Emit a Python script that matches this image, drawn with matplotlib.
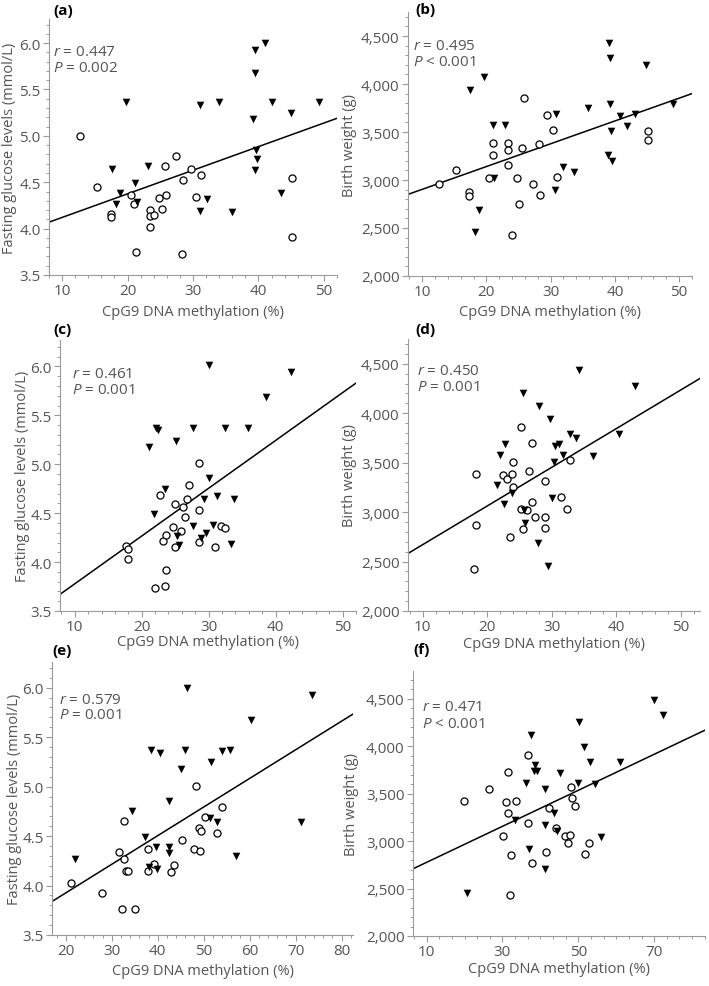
import numpy as np
import matplotlib
matplotlib.use("Agg")
import matplotlib.pyplot as plt
from matplotlib.ticker import MultipleLocator, FuncFormatter

# ---- data (circles = open markers, tris = filled down-triangles)
a_circ_x = [12.7, 15.35, 17.4, 17.4, 20.55, 21.06, 21.26, 23.46, 23.46, 23.46, 24.1, 24.78,
            25.2, 25.65, 25.9, 27.4, 28.4, 28.25, 29.7, 30.4, 31.2, 45.2, 45.2]
a_circ_y = [5.00, 4.45, 4.16, 4.12, 4.36, 4.27, 3.75, 4.20, 4.14, 4.02, 4.15, 4.33,
            4.21, 4.68, 4.36, 4.78, 4.52, 3.73, 4.64, 4.34, 4.58, 4.55, 3.91]
a_tri_x = [17.6, 18.3, 18.9, 19.7, 21.2, 21.4, 23.05, 31.05, 31.05, 32.07, 34.0, 35.9,
           39.15, 39.4, 39.4, 39.4, 39.66, 39.8, 41.0, 42.0, 43.4, 45.0, 49.3]
a_tri_y = [4.64, 4.27, 4.38, 5.37, 4.49, 4.29, 4.68, 5.33, 4.19, 4.32, 5.37, 4.18,
           5.18, 5.93, 5.68, 4.63, 4.85, 4.75, 6.00, 5.37, 4.38, 5.25, 5.36]

b_circ_x = [12.6, 15.3, 17.25, 17.25, 20.4, 21.0, 21.0, 23.4, 23.4, 23.4, 24.7, 25.0,
            24.0, 25.5, 25.8, 27.3, 28.2, 28.3, 29.5, 30.3, 31.0, 45.1, 45.1]
b_circ_y = [2956, 3105, 2873, 2831, 3025, 3385, 3257, 3385, 3316, 3156, 3025, 2748,
            2429, 3337, 3852, 2956, 3375, 2845, 3679, 3524, 3035, 3506, 3416]
b_tri_x = [17.5, 19.6, 18.9, 18.2, 21.1, 21.2, 22.85, 30.9, 30.7, 31.9, 33.7, 35.75,
           39.1, 39.3, 39.2, 39.4, 39.0, 39.6, 40.8, 41.9, 43.2, 44.9, 49.1]
b_tri_y = [3939, 4071, 2692, 2457, 3572, 3025, 3572, 3686, 2893, 3139, 3080, 3752,
           4427, 4268, 3790, 3506, 3260, 3195, 3669, 3562, 3686, 4199, 3790]

c_circ_x = [17.6, 17.96, 17.96, 22.0, 23.5, 23.6, 22.7, 23.2, 23.7, 24.7, 25.0, 25.0,
            25.8, 26.1, 26.5, 26.7, 27.1, 28.6, 28.6, 28.5, 31.0, 31.9, 32.5]
c_circ_y = [4.16, 4.13, 4.03, 3.74, 3.76, 3.92, 4.69, 4.22, 4.28, 4.36, 4.15, 4.59,
            4.32, 4.56, 4.46, 4.64, 4.79, 5.01, 4.53, 4.21, 4.15, 4.37, 4.35]
c_tri_x = [21.1, 22.2, 22.5, 21.8, 23.5, 25.1, 25.3, 25.5, 27.7, 27.6, 28.9, 29.3,
           29.6, 30.0, 30.1, 30.6, 31.3, 32.4, 33.8, 33.3, 35.9, 38.5, 42.3]
c_tri_y = [5.18, 5.37, 5.35, 4.49, 4.75, 5.24, 4.27, 4.17, 5.37, 4.37, 4.25, 4.64,
           4.30, 4.86, 6.01, 4.38, 4.68, 5.37, 4.64, 4.18, 5.37, 5.69, 5.94]

d_circ_x = [18.3, 18.3, 17.95, 22.4, 23.0, 23.9, 24.0, 24.0, 23.45, 25.2, 26.4, 27.0,
            26.9, 25.3, 26.2, 25.5, 27.45, 28.9, 28.96, 28.96, 31.45, 32.4, 32.9]
d_circ_y = [3385, 2866, 2421, 3378, 3331, 3385, 3506, 3257, 2745, 3856, 3412, 3698,
            3102, 3034, 3024, 2832, 2953, 3314, 2953, 2842, 3152, 3028, 3523]
d_tri_x = [21.5, 22.05, 22.8, 22.6, 23.9, 25.5, 25.7, 25.9, 28.1, 27.9, 29.7, 29.4,
           30.05, 30.4, 30.5, 31.1, 31.7, 32.9, 33.8, 34.2, 36.4, 40.4, 42.9]
d_tri_y = [3270, 3573, 3688, 3081, 3193, 4200, 3024, 2893, 4069, 2687, 3937, 2451,
           3142, 3506, 3671, 3688, 3573, 3792, 3752, 4433, 3563, 3792, 4274]

e_circ_x = [21.1, 27.9, 31.5, 32.2, 35.0, 32.7, 32.7, 33.2, 33.6, 37.9, 37.9, 39.2,
            43.0, 43.6, 45.3, 47.9, 49.2, 48.4, 48.9, 49.5, 50.3, 53.0, 54.0]
e_circ_y = [4.03, 3.92, 4.34, 3.76, 3.76, 4.65, 4.27, 4.15, 4.15, 4.37, 4.15, 4.22,
            4.14, 4.21, 4.46, 4.37, 4.35, 5.01, 4.58, 4.55, 4.69, 4.53, 4.79]
e_tri_x = [21.9, 34.5, 37.3, 38.2, 39.7, 39.9, 38.6, 40.5, 42.5, 42.5, 42.5, 45.0,
           45.9, 46.4, 51.7, 51.3, 52.9, 54.1, 55.7, 57.0, 60.4, 71.1, 73.5]
e_tri_y = [4.27, 4.75, 4.49, 4.19, 4.39, 4.17, 5.37, 5.34, 4.85, 4.39, 4.33, 5.18,
           5.37, 6.00, 5.25, 4.68, 4.64, 5.36, 5.37, 4.30, 5.67, 4.64, 5.93]

f_circ_x = [19.96, 26.5, 31.4, 31.0, 31.4, 33.6, 30.1, 32.2, 36.7, 36.7, 37.9, 31.9,
            41.6, 42.3, 44.0, 46.4, 47.2, 47.7, 48.0, 48.2, 49.1, 51.7, 52.8]
f_circ_y = [3421, 3546, 3729, 3411, 3293, 3421, 3054, 2857, 3904, 3186, 2764, 2436,
            2886, 3346, 3139, 3054, 2982, 3061, 3564, 3457, 3371, 2868, 2979]
f_tri_x = [20.6, 33.3, 36.1, 37.4, 37.1, 38.7, 38.4, 39.2, 41.1, 41.1, 41.2, 43.7,
           44.5, 45.2, 50.3, 50.0, 51.6, 53.0, 54.3, 55.9, 61.1, 69.9, 72.3]
f_tri_y = [2457, 3221, 3614, 4121, 2911, 3796, 3736, 3736, 3550, 3171, 2707, 3293,
           3107, 3714, 4257, 3611, 3989, 3836, 3600, 3043, 3836, 4489, 4329]

# regression lines as (intercept, slope)
fits_ab = {"a": (3.866, 0.02545), "b": (2665, 23.75), "c": (3.289, 0.04886),
           "d": (2281, 39.06), "e": (3.347, 0.02893), "f": (2586, 18.96)}
stats_r = {"a": "0.447", "b": "0.495", "c": "0.461", "d": "0.450", "e": "0.579", "f": "0.471"}
stats_p = {"a": "= 0.002", "b": "< 0.001", "c": "= 0.001", "d": "= 0.001", "e": "= 0.001",
           "f": "< 0.001"}

W, H = 709, 987
plt.rcParams["font.family"] = ["Open Sans", "DejaVu Sans"]
plt.rcParams["mathtext.fontset"] = "custom"
plt.rcParams["mathtext.it"] = "Open Sans:italic"
plt.rcParams["mathtext.rm"] = "Open Sans"

GREY = "#555555"
SPINE = "#9a9a9a"

fig = plt.figure(figsize=(W / 100, H / 100), dpi=100)


def px_axes(left, top, right, bottom):
    """Axes from pixel box (origin top-left)."""
    return fig.add_axes([left / W, 1 - bottom / H, (right - left) / W, (bottom - top) / H])


def style(ax, glucose, xlim, xmaj, xmin, ylim):
    ax.set_xlim(*xlim)
    ax.set_ylim(*ylim)
    for s in ("top", "right"):
        ax.spines[s].set_visible(False)
    for s in ("left", "bottom"):
        ax.spines[s].set_color(SPINE)
        ax.spines[s].set_linewidth(0.8)
    ax.set_xticks(xmaj)
    ax.xaxis.set_minor_locator(MultipleLocator(xmin))
    if glucose:
        ax.yaxis.set_major_locator(MultipleLocator(0.5))
        ax.yaxis.set_minor_locator(MultipleLocator(0.1))
        ax.yaxis.set_major_formatter(FuncFormatter(lambda v, p: f"{v:.1f}"))
    else:
        ax.yaxis.set_major_locator(MultipleLocator(500))
        ax.yaxis.set_minor_locator(MultipleLocator(100))
        ax.yaxis.set_major_formatter(FuncFormatter(lambda v, p: f"{int(v):,}"))
    ax.tick_params(which="major", direction="out", length=4, width=0.8, color=SPINE,
                   labelsize=11, labelcolor=GREY, pad=2)
    ax.tick_params(which="minor", direction="out", length=2, width=0.7, color=SPINE)


panels = [
    # key, box(l,t,r,b), glucose, xlim, xmajor, xminor, ylim, circ, tri,
    # label pos, stat pos, ylabel right edge x, xlabel centre y (pixels)
    ("a", (49, 20, 337, 276), True, (8, 52), [10, 20, 30, 40, 50], 2, (3.5, 6.26),
     (a_circ_x, a_circ_y), (a_tri_x, a_tri_y), (63, 11), (53, 52), 17, 313),
    ("b", (408, 13, 692, 277), False, (7.8, 52), [10, 20, 30, 40, 50], 2, (2000, 4750),
     (b_circ_x, b_circ_y), (b_tri_x, b_tri_y), (425, 10), (413, 47), 357, 313),
    ("c", (60, 341, 356, 612), True, (7.8, 52), [10, 20, 30, 40, 50], 2, (3.5, 6.27),
     (c_circ_x, c_circ_y), (c_tri_x, c_tri_y), (63, 330), (72, 375), 30, 643),
    ("d", (408, 340, 700, 612), False, (7.7, 53), [10, 20, 30, 40, 50], 2, (2000, 4750),
     (d_circ_x, d_circ_y), (d_tri_x, d_tri_y), (425, 330), (417, 372), 357, 645),
    ("e", (52, 663, 353, 936), True, (17, 82.5), [20, 30, 40, 50, 60, 70, 80], 2, (3.5, 6.26),
     (e_circ_x, e_circ_y), (e_tri_x, e_tri_y), (62, 651), (59, 700), 22, 972),
    ("f", (413, 672, 705, 937), False, (6.4, 83.4), [10, 30, 50, 70], 10 / 3, (2000, 4790),
     (f_circ_x, f_circ_y), (f_tri_x, f_tri_y), (422, 650), (422, 708), 359, 970),
]

for (key, box, glucose, xlim, xmaj, xmin, ylim, circ, tri, lab_pos, st_pos,
     ylab_x, xlab_y) in panels:
    ax = px_axes(*box)
    style(ax, glucose, xlim, xmaj, xmin, ylim)

    b0, b1 = fits_ab[key]
    xs = np.array(xlim)
    ax.plot(xs, b0 + b1 * xs, color="black", lw=1.1, zorder=2)

    ax.scatter(circ[0], circ[1], s=26, facecolors="white", edgecolors="black",
               linewidths=0.9, zorder=3, clip_on=False)
    ax.scatter(tri[0], tri[1], s=30, marker="v", color="black", linewidths=0,
               zorder=4, clip_on=False)

    bw, bh = box[2] - box[0], box[3] - box[1]
    ylab = "Fasting glucose levels (mmol/L)" if glucose else "Birth weight (g)"
    ax.set_ylabel(ylab, fontsize=10.5, color=GREY)
    # ylabel anchor is the right-hand edge of the rotated text
    ax.yaxis.set_label_coords((ylab_x - box[0]) / bw, 0.5)
    ax.set_xlabel("CpG9 DNA methylation (%)", fontsize=10.5, color=GREY)
    # xlabel anchor is the top of the text
    ax.xaxis.set_label_coords(0.5, (box[3] - (xlab_y - 8)) / bh)

    fig.text(lab_pos[0] / W, 1 - lab_pos[1] / H, f"({key})", fontsize=11,
             fontweight="bold", color="black", ha="center", va="center")
    fig.text(st_pos[0] / W, 1 - st_pos[1] / H, r"$\it{r}$ = " + stats_r[key],
             fontsize=11, color=GREY, ha="left", va="center")
    fig.text(st_pos[0] / W, 1 - (st_pos[1] + 16) / H, r"$\it{P}$ " + stats_p[key],
             fontsize=11, color=GREY, ha="left", va="center")

fig.savefig("out.png", dpi=100)
